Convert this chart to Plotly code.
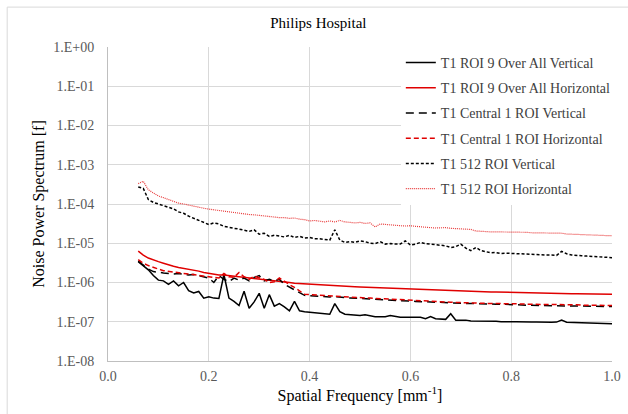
import plotly.graph_objects as go

# spatial frequency samples [mm^-1]
freq = [0.06, 0.07, 0.08, 0.09, 0.10, 0.11, 0.12, 0.13, 0.14, 0.15,
        0.16, 0.17, 0.18, 0.19, 0.20, 0.21, 0.22, 0.23, 0.24, 0.25,
        0.26, 0.27, 0.28, 0.29, 0.30, 0.31, 0.32, 0.33, 0.34, 0.35,
        0.36, 0.37, 0.38, 0.39, 0.40, 0.41, 0.42, 0.43, 0.44, 0.45,
        0.46, 0.47, 0.48, 0.49, 0.50, 0.51, 0.52, 0.53, 0.54, 0.55,
        0.56, 0.57, 0.58, 0.59, 0.60, 0.61, 0.62, 0.63, 0.64, 0.65,
        0.66, 0.67, 0.68, 0.69, 0.70, 0.71, 0.72, 0.73, 0.74, 0.75,
        0.76, 0.77, 0.78, 0.79, 0.80, 0.81, 0.82, 0.83, 0.84, 0.85,
        0.86, 0.87, 0.88, 0.89, 0.90, 0.91, 0.92, 0.93, 0.94, 0.95,
        0.96, 0.97, 0.98, 0.99, 1.00]

roi9_vert = [3.4e-6, 2.7e-6, 2.1e-6, 1.5e-6, 1.15e-6, 1.1e-6, 9.0e-7, 1.1e-6, 8.2e-7, 1.0e-6,
             6.2e-7, 5.4e-7, 5.9e-7, 4.0e-7, 4.3e-7, 4.0e-7, 3.9e-7, 1.6e-6, 4.0e-7, 3.3e-7,
             2.6e-7, 6.0e-7, 2.2e-7, 3.2e-7, 5.3e-7, 2.2e-7, 4.9e-7, 2.5e-7, 2.9e-7, 2.4e-7,
             1.9e-7, 3.3e-7, 1.9e-7, 1.8e-7, 1.75e-7, 1.7e-7, 1.65e-7, 1.6e-7, 1.55e-7, 2.9e-7,
             1.8e-7, 1.55e-7, 1.5e-7, 1.45e-7, 1.45e-7, 1.5e-7, 1.4e-7, 1.35e-7, 1.35e-7, 1.35e-7,
             1.45e-7, 1.35e-7, 1.3e-7, 1.3e-7, 1.3e-7, 1.25e-7, 1.3e-7, 1.2e-7, 1.35e-7, 1.2e-7,
             1.15e-7, 1.15e-7, 1.6e-7, 1.1e-7, 1.1e-7, 1.1e-7, 1.05e-7, 1.05e-7, 1.04e-7, 1.05e-7,
             1.02e-7, 1.03e-7, 1.0e-7, 1.02e-7, 1.0e-7, 1.0e-7, 9.8e-8, 1.0e-7, 9.8e-8, 9.9e-8,
             9.7e-8, 9.8e-8, 9.7e-8, 9.8e-8, 1.1e-7, 9.7e-8, 9.6e-8, 9.6e-8, 9.3e-8, 9.5e-8,
             9.2e-8, 9.0e-8, 9.2e-8, 8.9e-8, 8.9e-8]

roi9_horiz = [6.3e-6, 5.0e-6, 4.2e-6, 3.7e-6, 3.4e-6, 3.1e-6, 2.8e-6, 2.6e-6, 2.4e-6, 2.3e-6,
              2.2e-6, 2.05e-6, 1.95e-6, 1.8e-6, 1.7e-6, 1.6e-6, 1.55e-6, 1.55e-6, 1.5e-6, 1.45e-6,
              1.45e-6, 1.4e-6, 1.35e-6, 1.3e-6, 1.25e-6, 1.2e-6, 1.15e-6, 1.12e-6, 1.1e-6, 1.05e-6,
              1.0e-6, 9.6e-7, 9.4e-7, 9.2e-7, 9.1e-7, 9.0e-7, 8.8e-7, 8.6e-7, 8.5e-7, 8.4e-7,
              8.1e-7, 8.0e-7, 7.9e-7, 7.8e-7, 7.7e-7, 7.6e-7, 7.5e-7, 7.4e-7, 7.3e-7, 7.2e-7,
              7.1e-7, 7.0e-7, 6.9e-7, 6.85e-7, 6.8e-7, 6.7e-7, 6.6e-7, 6.5e-7, 6.45e-7, 6.4e-7,
              6.3e-7, 6.25e-7, 6.2e-7, 6.1e-7, 6.0e-7, 5.95e-7, 5.9e-7, 5.85e-7, 5.8e-7, 5.75e-7,
              5.7e-7, 5.7e-7, 5.65e-7, 5.6e-7, 5.6e-7, 5.55e-7, 5.5e-7, 5.5e-7, 5.45e-7, 5.4e-7,
              5.4e-7, 5.35e-7, 5.35e-7, 5.3e-7, 5.3e-7, 5.25e-7, 5.2e-7, 5.2e-7, 5.15e-7, 5.1e-7,
              5.1e-7, 5.05e-7, 5.05e-7, 5.0e-7, 5.0e-7]

central_vert = [3.5e-6, 2.8e-6, 2.2e-6, 1.9e-6, 1.8e-6, 1.75e-6, 1.7e-6, 1.65e-6, 1.7e-6, 1.6e-6,
                1.55e-6, 1.6e-6, 1.5e-6, 1.4e-6, 1.3e-6, 1.0e-6, 1.5e-6, 1.2e-6, 1.05e-6, 1.3e-6,
                1.15e-6, 1.3e-6, 1.1e-6, 1.35e-6, 1.5e-6, 1.1e-6, 1.2e-6, 1.1e-6, 1.2e-6, 9.0e-7,
                7.8e-7, 6.5e-7, 5.5e-7, 4.7e-7, 4.6e-7, 4.5e-7, 4.4e-7, 4.3e-7, 4.3e-7, 4.4e-7,
                4.2e-7, 4.1e-7, 4.05e-7, 4.0e-7, 3.9e-7, 3.85e-7, 3.8e-7, 3.75e-7, 3.7e-7, 3.65e-7,
                3.6e-7, 3.55e-7, 3.5e-7, 3.4e-7, 3.35e-7, 3.3e-7, 3.3e-7, 3.25e-7, 3.2e-7, 3.15e-7,
                3.1e-7, 3.05e-7, 3.0e-7, 3.0e-7, 2.95e-7, 2.95e-7, 2.9e-7, 2.9e-7, 2.85e-7, 2.85e-7,
                2.8e-7, 2.8e-7, 2.8e-7, 2.75e-7, 2.75e-7, 2.7e-7, 2.7e-7, 2.65e-7, 2.65e-7, 2.6e-7,
                2.6e-7, 2.6e-7, 2.55e-7, 2.55e-7, 2.55e-7, 2.5e-7, 2.5e-7, 2.5e-7, 2.5e-7, 2.45e-7,
                2.45e-7, 2.45e-7, 2.45e-7, 2.45e-7, 2.45e-7]

central_horiz = [3.8e-6, 3.1e-6, 2.7e-6, 2.4e-6, 2.2e-6, 2.0e-6, 1.9e-6, 1.85e-6, 1.75e-6, 1.7e-6,
                 1.65e-6, 1.6e-6, 1.55e-6, 1.5e-6, 1.4e-6, 1.35e-6, 1.3e-6, 1.7e-6, 1.4e-6, 1.35e-6,
                 1.8e-6, 1.4e-6, 1.2e-6, 1.45e-6, 1.3e-6, 1.2e-6, 1.0e-6, 1.05e-6, 1.3e-6, 1.05e-6,
                 8.8e-7, 7.5e-7, 6.0e-7, 5.0e-7, 4.9e-7, 4.8e-7, 4.7e-7, 4.6e-7, 4.5e-7, 4.6e-7,
                 4.4e-7, 4.35e-7, 4.3e-7, 4.2e-7, 4.1e-7, 4.05e-7, 4.0e-7, 3.95e-7, 3.9e-7, 3.85e-7,
                 3.8e-7, 3.7e-7, 3.65e-7, 3.6e-7, 3.5e-7, 3.45e-7, 3.4e-7, 3.4e-7, 3.35e-7, 3.3e-7,
                 3.25e-7, 3.2e-7, 3.15e-7, 3.1e-7, 3.1e-7, 3.05e-7, 3.0e-7, 3.0e-7, 2.95e-7, 2.95e-7,
                 2.95e-7, 2.9e-7, 2.9e-7, 2.9e-7, 2.9e-7, 2.85e-7, 2.85e-7, 2.8e-7, 2.8e-7, 2.8e-7,
                 2.8e-7, 2.75e-7, 2.75e-7, 2.75e-7, 2.75e-7, 2.7e-7, 2.7e-7, 2.7e-7, 2.65e-7, 2.65e-7,
                 2.65e-7, 2.6e-7, 2.6e-7, 2.6e-7, 2.6e-7]

roi512_vert = [2.7e-4, 2.5e-4, 1.3e-4, 1.1e-4, 1.0e-4, 9.0e-5, 8.3e-5, 7.5e-5, 6.3e-5, 5.8e-5,
               4.9e-5, 4.3e-5, 3.8e-5, 3.3e-5, 3.0e-5, 3.3e-5, 3.1e-5, 2.7e-5, 2.5e-5, 2.4e-5,
               2.3e-5, 2.1e-5, 2.0e-5, 2.2e-5, 1.7e-5, 1.8e-5, 1.5e-5, 1.6e-5, 1.55e-5, 1.45e-5,
               1.6e-5, 1.4e-5, 1.5e-5, 1.35e-5, 1.4e-5, 1.3e-5, 1.3e-5, 1.25e-5, 1.2e-5, 2.2e-5,
               1.2e-5, 1.05e-5, 1.1e-5, 1.05e-5, 1.15e-5, 1.1e-5, 1.0e-5, 9.8e-6, 1.1e-5, 9.5e-6,
               9.8e-6, 9.5e-6, 9.6e-6, 1.15e-5, 9.0e-6, 9.5e-6, 1.05e-5, 9.8e-6, 9.5e-6, 9.2e-6,
               8.8e-6, 8.6e-6, 7.8e-6, 8.2e-6, 9.5e-6, 7.5e-6, 6.5e-6, 7.8e-6, 6.5e-6, 6.0e-6,
               5.7e-6, 5.8e-6, 5.5e-6, 5.6e-6, 5.5e-6, 5.5e-6, 5.4e-6, 5.3e-6, 5.2e-6, 5.2e-6,
               5.1e-6, 5.0e-6, 5.0e-6, 4.9e-6, 6.2e-6, 5.4e-6, 5.0e-6, 4.8e-6, 4.8e-6, 4.7e-6,
               4.6e-6, 4.6e-6, 4.5e-6, 4.4e-6, 4.3e-6]

roi512_horiz = [3.3e-4, 3.8e-4, 2.3e-4, 1.9e-4, 1.6e-4, 1.45e-4, 1.3e-4, 1.15e-4, 1.05e-4, 1.0e-4,
                9.3e-5, 8.8e-5, 8.3e-5, 7.8e-5, 7.4e-5, 7.1e-5, 6.8e-5, 6.5e-5, 6.3e-5, 6.0e-5,
                5.8e-5, 5.6e-5, 5.4e-5, 5.3e-5, 5.1e-5, 5.0e-5, 4.8e-5, 4.7e-5, 4.5e-5, 4.5e-5,
                4.3e-5, 4.4e-5, 4.1e-5, 4.0e-5, 3.7e-5, 3.8e-5, 3.7e-5, 3.5e-5, 3.7e-5, 3.5e-5,
                3.8e-5, 3.5e-5, 3.4e-5, 3.3e-5, 3.4e-5, 3.2e-5, 3.3e-5, 2.6e-5, 3.1e-5, 3.0e-5,
                2.9e-5, 2.85e-5, 2.8e-5, 2.75e-5, 2.8e-5, 2.7e-5, 2.6e-5, 2.6e-5, 2.5e-5, 2.45e-5,
                2.5e-5, 2.5e-5, 2.4e-5, 2.35e-5, 2.3e-5, 2.3e-5, 2.25e-5, 2.05e-5, 2.0e-5, 2.0e-5,
                1.95e-5, 1.95e-5, 1.95e-5, 1.9e-5, 1.9e-5, 1.9e-5, 1.9e-5, 1.9e-5, 1.85e-5, 1.85e-5,
                1.85e-5, 1.85e-5, 1.85e-5, 1.8e-5, 1.8e-5, 1.72e-5, 1.7e-5, 1.7e-5, 1.68e-5, 1.65e-5,
                1.63e-5, 1.6e-5, 1.6e-5, 1.57e-5, 1.55e-5]

y_tickvals = [1e0, 1e-1, 1e-2, 1e-3, 1e-4, 1e-5, 1e-6, 1e-7, 1e-8]
y_ticktext = ["1.E+00", "1.E-01", "1.E-02", "1.E-03", "1.E-04",
              "1.E-05", "1.E-06", "1.E-07", "1.E-08"]

series = [
    ("T1 ROI 9 Over All Vertical", roi9_vert, "black", "solid", 1.5),
    ("T1 ROI 9 Over All Horizontal", roi9_horiz, "#e00000", "solid", 1.5),
    ("T1 Central 1 ROI Vertical", central_vert, "black", "8px,5px", 1.5),
    ("T1 Central 1 ROI Horizontal", central_horiz, "#e00000", "5px,3px", 1.5),
    ("T1 512 ROI Vertical", roi512_vert, "black", "3px,2px", 1.5),
    ("T1 512 ROI Horizontal", roi512_horiz, "#e83a3a", "1px,1px", 1.2),
]

FONT = "Liberation Serif"

fig = go.Figure()
for i, (name, vals, color, dash, width) in enumerate(series):
    fig.add_trace(go.Scatter(
        x=freq, y=vals, name=name, mode="lines",
        legendgroup=str(i),
        line=dict(color=color, dash=dash, width=width),
    ))

fig.update_layout(
    width=628, height=414,
    margin=dict(l=108, r=16, t=47, b=53, autoexpand=False),
    paper_bgcolor="white", plot_bgcolor="white",
    font=dict(family=FONT, size=14, color="#404040"),
    title=dict(text="Philips Hospital", x=0.507, xanchor="center",
               y=0.944, yanchor="middle", yref="container",
               font=dict(family=FONT, size=15, color="black")),
    legend=dict(x=0.581, y=1.0, xanchor="left", yanchor="top",
                bgcolor="white", font=dict(family=FONT, size=14, color="#404040"),
                traceorder="grouped", tracegroupgap=4, itemwidth=30),
    showlegend=True,
    # light chart-area frame (top and left edges visible)
    shapes=[dict(type="rect", xref="paper", yref="paper",
                 x0=-0.2, x1=1.05, y0=-0.3, y1=1.127,
                 line=dict(color="#d9d9d9", width=1), layer="below")],
)

fig.update_xaxes(
    range=[0, 1], dtick=0.2, tickformat=".1f",
    showgrid=True, gridcolor="#d9d9d9", gridwidth=1,
    showline=True, linecolor="#bfbfbf", linewidth=1,
    zeroline=False, ticks="", ticklabelstandoff=2,
    tickfont=dict(family=FONT, size=14, color="#595959"),
    title=dict(text="Spatial Frequency [mm<sup>-1</sup>]", standoff=4,
               font=dict(family=FONT, size=16, color="black")),
)

fig.update_yaxes(
    type="log", range=[-8, 0],
    tickvals=y_tickvals, ticktext=y_ticktext,
    showgrid=True, gridcolor="#d9d9d9", gridwidth=1,
    showline=True, linecolor="#bfbfbf", linewidth=1,
    zeroline=False, ticks="", ticklabelstandoff=10,
    tickfont=dict(family=FONT, size=14, color="#595959"),
    title=dict(text="Noise Power Spectrum [f]", standoff=4,
               font=dict(family=FONT, size=16, color="black")),
)

fig.write_html("out.html", config={"displayModeBar": False},
               post_script="document.body.style.margin='0';")
